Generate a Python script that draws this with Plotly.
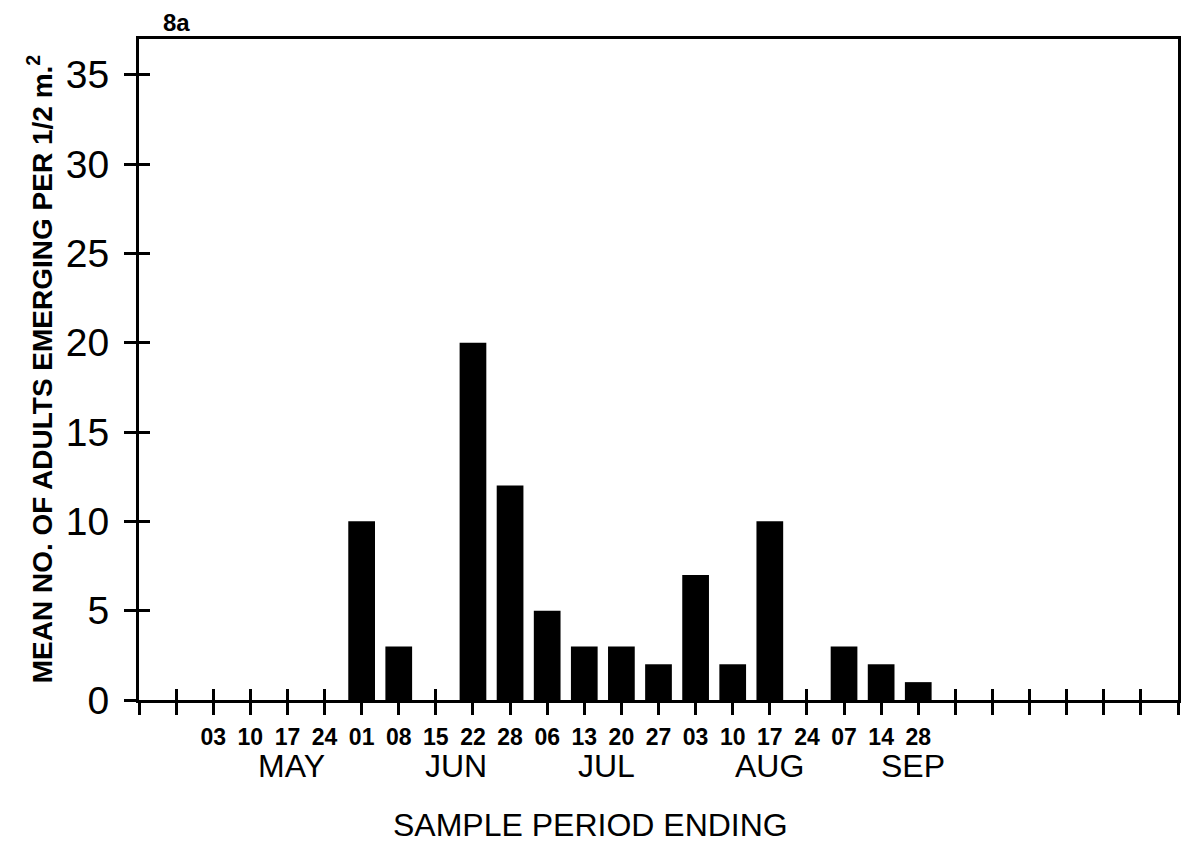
import plotly.graph_objects as go

# Sample periods (weekly) along the x axis; index 0 and 21..26 are unlabeled slots
day_labels = ["", "03", "10", "17", "24", "01", "08", "15", "22", "28",
              "06", "13", "20", "27", "03", "10", "17", "24", "07", "14", "28",
              "", "", "", "", "", ""]
# Mean number of adults emerging for each sample period
mean_adults = [0, 0, 0, 0, 0, 10, 3, 0, 20, 12,
               5, 3, 3, 2, 7, 2, 10, 0, 3, 2, 1,
               0, 0, 0, 0, 0, 0]
months = ["MAY", "JUN", "JUL", "AUG", "SEP"]
month_centers = [3.1, 7.55, 11.6, 16.0, 19.85]
y_ticks = [0, 5, 10, 15, 20, 25, 30, 35]

FONT = "Liberation Sans, Arial, sans-serif"
W, H = 1189, 846
L, R, T, B = 139, 8, 39, 146

x_idx = list(range(len(day_labels)))
x_range = [-1, len(day_labels)]
y_range = [0, 37]
x_ticks = list(range(-1, len(day_labels) + 1))
x_ticktext = [""] + day_labels + [""]

fig = go.Figure()
fig.add_trace(go.Bar(
    x=x_idx, y=mean_adults, width=0.72,
    marker=dict(color="black", line=dict(width=0)),
    hoverinfo="skip", showlegend=False,
))
# invisible companion trace so the overlay axes (inner tick halves) render
fig.add_trace(go.Scatter(
    x=x_idx, y=mean_adults, xaxis="x2", yaxis="y2", mode="markers",
    marker=dict(size=1, opacity=0), hoverinfo="skip", showlegend=False,
))

axis_common = dict(showgrid=False, zeroline=False, linecolor="black",
                   linewidth=3, tickcolor="black", tickwidth=3)
inner_common = {k: v for k, v in axis_common.items() if k != "linewidth"}

fig.update_layout(
    width=W, height=H,
    margin=dict(l=L, r=R, t=T, b=B, pad=0),
    paper_bgcolor="white", plot_bgcolor="white",
    font=dict(family=FONT, color="black"),
    xaxis=dict(range=x_range, tickmode="array", tickvals=x_ticks,
               ticktext=x_ticktext, ticks="outside", ticklen=12,
               showline=True, mirror=True,
               tickfont=dict(family=FONT, size=23, weight="bold"),
               ticklabelstandoff=2, **axis_common),
    yaxis=dict(range=y_range, tickmode="array", tickvals=y_ticks,
               ticks="outside", ticklen=12, showline=True, mirror=True,
               tickfont=dict(family=FONT, size=39),
               ticklabelstandoff=7, **axis_common),
    xaxis2=dict(range=x_range, overlaying="x", anchor="y2", side="bottom",
                tickmode="array", tickvals=x_ticks, ticks="inside",
                ticklen=11, showticklabels=False, showline=False,
                **inner_common),
    yaxis2=dict(range=y_range, overlaying="y", anchor="x2", side="left",
                tickmode="array", tickvals=y_ticks, ticks="inside",
                ticklen=11, showticklabels=False, showline=False,
                **inner_common),
)

pw = W - L - R
ph = H - T - B
annotations = []
for name, cx in zip(months, month_centers):
    annotations.append(dict(
        text=name, x=cx, xref="x", y=0, yref="paper", yanchor="middle",
        yshift=-66, showarrow=False, font=dict(family=FONT, size=32)))
annotations.append(dict(
    text="SAMPLE PERIOD ENDING", x=(592 - L) / pw, xref="paper",
    y=0, yref="paper", yanchor="middle", yshift=-125, showarrow=False,
    font=dict(family=FONT, size=32)))
annotations.append(dict(
    text="MEAN NO. OF ADULTS EMERGING PER 1/2 m.<sup>2</sup>",
    textangle=-90, x=(40 - L) / pw, xref="paper", xanchor="center",
    y=(H - B - 369) / ph, yref="paper", yanchor="middle",
    showarrow=False, font=dict(family=FONT, size=28, weight="bold")))
annotations.append(dict(
    text="8a", x=(177 - L) / pw, xref="paper", xanchor="center",
    y=1, yref="paper", yanchor="middle", yshift=17, showarrow=False,
    font=dict(family=FONT, size=24, weight="bold")))
fig.update_layout(annotations=annotations)

fig.write_html("out.html")
